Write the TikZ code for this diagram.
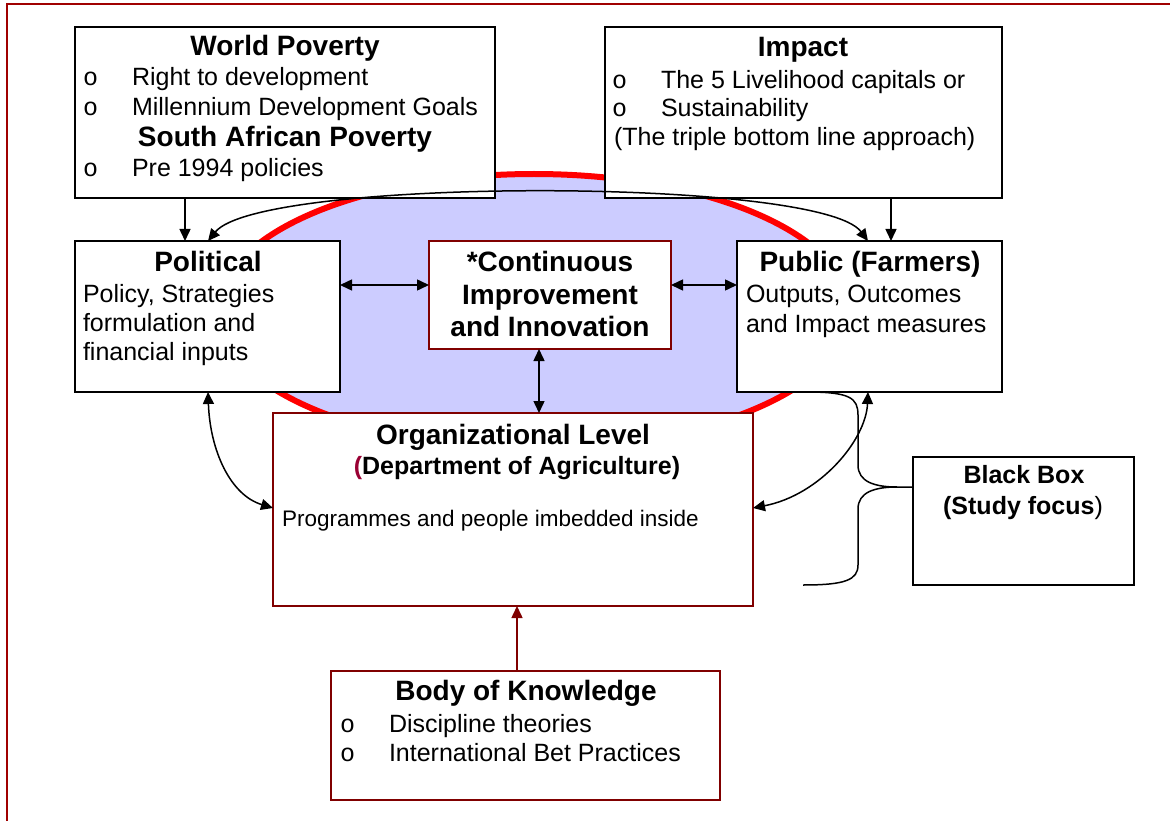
\documentclass[tikz,border=0pt]{standalone}
\usepackage{fontspec}
\setmainfont{Liberation Sans}
\newfontfamily\bulfont{Liberation Mono}
\usetikzlibrary{arrows.meta,shapes.geometric}
\definecolor{ellfill}{RGB}{204,204,255}
\definecolor{ellred}{RGB}{255,0,0}
\definecolor{framered}{RGB}{160,0,0}
\definecolor{boxred}{RGB}{128,0,0}
\definecolor{parred}{RGB}{153,0,51}
\newcommand\titlefont{\fontsize{28}{32}\selectfont\bfseries}
\newcommand\bodyfont{\fontsize{25}{30}\selectfont}
\newcommand\smallbody{\fontsize{22.5}{27}\selectfont}
\begin{document}
\begin{tikzpicture}[x=1pt,y=-1pt,
  box/.style={draw=black,line width=2pt,fill=white,anchor=north west,inner sep=0pt,outer sep=0pt},
  redbox/.style={box,draw=boxred},
  txt/.style={inner sep=0pt,outer sep=0pt,anchor=base west,font=\bodyfont},
  ttl/.style={inner sep=0pt,outer sep=0pt,anchor=base,font=\titlefont},
  bul/.style={inner sep=0pt,outer sep=0pt,anchor=base west,font=\bulfont\fontsize{25}{30}\selectfont},
  conn/.style={line width=1.5pt,draw=black},
  arr/.style={conn,-{Triangle[length=12pt,width=11pt]}},
  darr/.style={conn,{Triangle[length=12pt,width=11pt]}-{Triangle[length=12pt,width=11pt]}},
]
\useasboundingbox (0,0) rectangle (1170,821);
% outer frame
\draw[framered,line width=2.5pt] (7,840) -- (7,4) -- (1190,4);
% ellipse
\node[ellipse,draw=ellred,fill=ellfill,line width=6pt,inner sep=0pt,minimum width=632pt,minimum height=274pt] (ell) at (534,311) {};
% boxes
\node[box,minimum width=420pt,minimum height=171pt] (wp) at (75,27) {};
\node[box,minimum width=397pt,minimum height=171pt] (imp) at (605,27) {};
\node[box,minimum width=265pt,minimum height=151pt] (pol) at (75,241) {};
\node[redbox,minimum width=242pt,minimum height=108pt] (ci) at (429,241) {};
\node[box,minimum width=265pt,minimum height=151pt] (pub) at (737,241) {};
\node[redbox,minimum width=480pt,minimum height=193pt] (org) at (273,413) {};
\node[box,minimum width=221pt,minimum height=128pt] (bb) at (913,457) {};
\node[redbox,minimum width=389pt,minimum height=129pt] (bok) at (331,671) {};
% World Poverty text
\node[ttl] (wpt) at (285,56) {World Poverty};
\node[bul] (wpb1) at (83,86) {o};
\node[txt] (wpl1) at (132,86) {Right to development};
\node[bul] (wpb2) at (83,116) {o};
\node[txt] (wpl2) at (132,116) {Millennium Development Goals};
\node[ttl] (sat) at (285,147) {South African Poverty};
\node[bul] (wpb3) at (83,177) {o};
\node[txt] (wpl3) at (132,177) {Pre 1994 policies};
% Impact text
\node[ttl] (impt) at (803,57) {Impact};
\node[bul] (ib1) at (612,89) {o};
\node[txt] (il1) at (661,89) {The 5 Livelihood capitals or};
\node[bul] (ib2) at (612,117) {o};
\node[txt] (il2) at (661,117) {Sustainability};
\node[txt] (il3) at (614,146) {(The triple bottom line approach)};
% Political text
\node[ttl] (polt) at (208,272) {Political};
\node[txt] (pl1) at (83,302) {Policy, Strategies};
\node[txt] (pl2) at (83,331) {formulation and};
\node[txt] (pl3) at (83,360) {financial inputs};
% Continuous text
\node[ttl] (cit1) at (550,272) {*Continuous};
\node[ttl] (cit2) at (550,304) {Improvement};
\node[ttl] (cit3) at (550,336) {and Innovation};
% Public text
\node[ttl] (pubt) at (870,272) {Public (Farmers)};
\node[txt] (publ1) at (746,302) {Outputs, Outcomes};
\node[txt] (publ2) at (746,332) {and Impact measures};
% Organizational text
\node[ttl] (orgt) at (513,444) {Organizational Level};
\node[inner sep=0pt,anchor=base,font=\bodyfont\bfseries] (orgd) at (517,474) {\textcolor{parred}{(}Department of Agriculture)};
\node[inner sep=0pt,anchor=base west,font=\smallbody] (orgp) at (282,526) {Programmes and people imbedded inside};
% Black box text
\node[inner sep=0pt,anchor=base,font=\bodyfont\bfseries] (bbt1) at (1024,483) {Black Box};
\node[inner sep=0pt,anchor=base,font=\bodyfont\bfseries] (bbt2) at (1023,514) {(Study focus{\mdseries)}};
% Body of Knowledge text
\node[ttl] (bokt) at (526,700) {Body of Knowledge};
\node[bul] (bb1) at (340,732) {o};
\node[txt] (bl1) at (389,732) {Discipline theories};
\node[bul] (bb2) at (340,761) {o};
\node[txt] (bl2) at (389,761) {International Bet Practices};
% connectors
\draw[arr] ([xshift=110pt]wp.south west) -- ([xshift=110pt]pol.north west);
\draw[arr] ([xshift=-111pt]imp.south east) -- ([xshift=-111pt]pub.north east);
\draw[darr] ([xshift=133pt]pol.north west) .. controls (260,177) and (820,177) .. ([xshift=-134pt]pub.north east);
\draw[darr] ([yshift=-44pt]pol.north east) -- ([yshift=-44pt]ci.north west);
\draw[darr] ([yshift=-44pt]ci.north east) -- ([yshift=-44pt]pub.north west);
\draw[darr] ([xshift=110pt]ci.south west) -- ([xshift=266pt]org.north west);
\draw[darr] ([xshift=133pt]pol.south west) .. controls (210,450) and (230,495) .. ([yshift=-95pt]org.north west);
\draw[darr] ([xshift=-134pt]pub.south east) .. controls (866,440) and (820,495) .. ([yshift=-95pt]org.north east);
\draw[line width=1.5pt,draw=boxred,-{Triangle[length=12pt,width=11pt]}] ([xshift=186pt]bok.north west) -- ([xshift=244pt]org.south west);
% brace
\coordinate (btip) at (897,487);
\coordinate (bend) at (803,585);
\draw[conn] ([xshift=70pt]pub.south west) .. controls (850,392) and (858,398) .. (858,415) -- (858,465) .. controls (858,482) and (875,487) .. (btip) -- ([yshift=-30pt]bb.north west);
\draw[conn] (btip) .. controls (875,487) and (858,492) .. (858,509) -- (858,565) .. controls (858,580) and (845,585) .. (bend);
\end{tikzpicture}
\end{document}
